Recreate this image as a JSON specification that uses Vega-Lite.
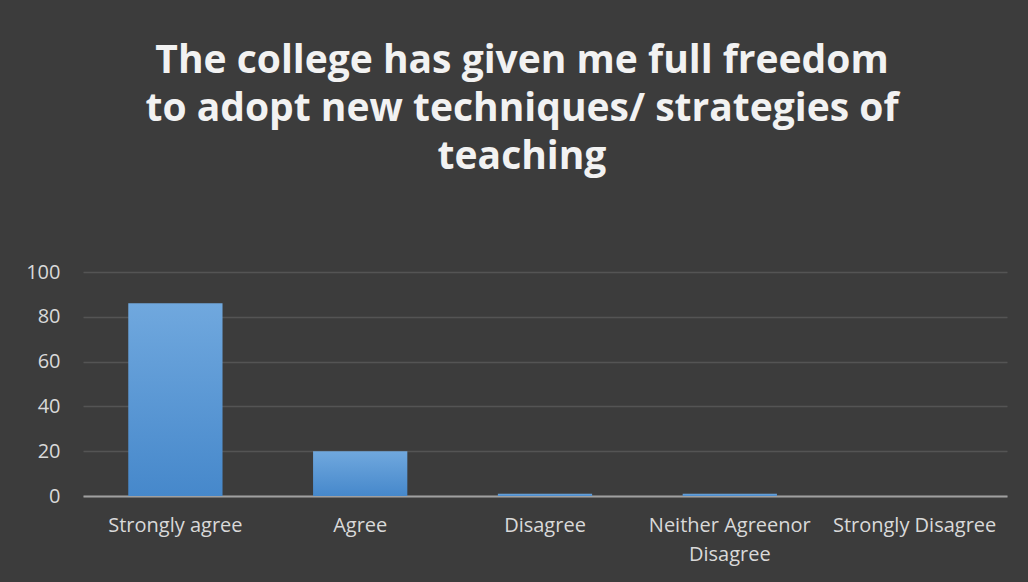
{
  "$schema": "https://vega.github.io/schema/vega-lite/v6.json",
  "width": 924,
  "height": 224,
  "autosize": "none",
  "padding": {"left": 83, "top": 272, "right": 21, "bottom": 86},
  "background": "#3c3c3c",
  "title": {
    "text": ["The college has given me full freedom", "to adopt new techniques/ strategies of", "teaching"],
    "font": "Open Sans",
    "fontWeight": "bold",
    "fontSize": 39,
    "color": "#f2f2f2",
    "anchor": "middle",
    "dx": -23,
    "lineHeight": 48,
    "offset": 54,
    "baseline": "alphabetic"
  },
  "data": {
    "values": [
      {"response": "Strongly agree", "count": 86},
      {"response": "Agree", "count": 20},
      {"response": "Disagree", "count": 1},
      {"response": "Neither Agreenor Disagree", "count": 1},
      {"response": "Strongly Disagree", "count": 0}
    ]
  },
  "mark": {
    "type": "bar",
    "color": {
      "gradient": "linear",
      "x1": 0, "y1": 0, "x2": 0, "y2": 1,
      "stops": [
        {"offset": 0, "color": "#70a8de"},
        {"offset": 1, "color": "#4688cb"}
      ]
    }
  },
  "encoding": {
    "x": {
      "field": "response",
      "type": "nominal",
      "sort": null,
      "scale": {"paddingInner": 0.49, "paddingOuter": 0.245},
      "axis": {
        "title": null,
        "labelAngle": 0,
        "labelFont": "Open Sans",
        "labelFontSize": 20,
        "labelColor": "#d9d9d9",
        "labelPadding": 19,
        "labelLineHeight": 29,
        "labelLimit": 300,
        "ticks": false,
        "domainColor": "#a0a0a0",
        "domainWidth": 2,
        "grid": false,
        "labelExpr": "datum.label == 'Neither Agreenor Disagree' ? ['Neither Agreenor', 'Disagree'] : datum.label"
      }
    },
    "y": {
      "field": "count",
      "type": "quantitative",
      "scale": {"domain": [0, 100]},
      "axis": {
        "title": null,
        "values": [0, 20, 40, 60, 80, 100],
        "labelFont": "Open Sans",
        "labelFontSize": 20,
        "labelColor": "#d9d9d9",
        "labelPadding": 23,
        "ticks": false,
        "domain": false,
        "gridColor": "#545454",
        "gridWidth": 1.5
      }
    }
  },
  "config": {
    "view": {"stroke": null}
  }
}
